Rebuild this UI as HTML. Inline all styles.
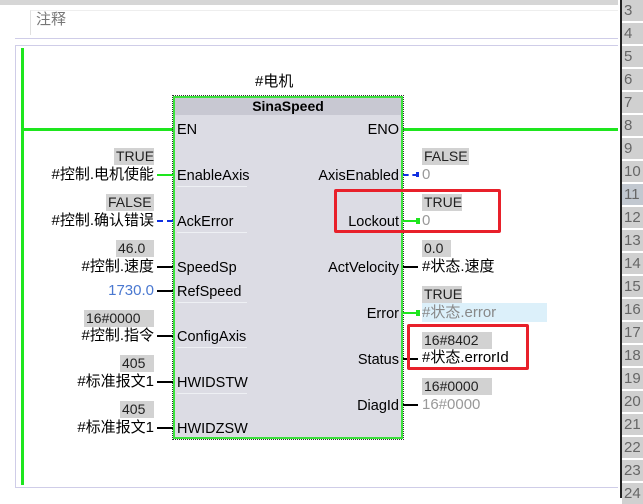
<!DOCTYPE html>
<html><head><meta charset="utf-8"><style>
body{margin:0;width:643px;height:498px;overflow:hidden;background:#fff;position:relative;font-family:"Liberation Sans","Noto Sans CJK SC",sans-serif;font-size:15px;color:#000}
div{position:absolute;box-sizing:border-box}
.t{white-space:nowrap;line-height:16px}
.val{background:#d2d2d2;height:17px;line-height:17px;padding:0 2px;color:#222;white-space:nowrap;font-size:14px}
.r{text-align:right}
.pin{white-space:nowrap;line-height:16px;font-size:14.5px}
.sep{height:1px;background:#eef0f4}
.row{left:622px;width:21px;height:21px;background:#d0d0d0;color:#666;font-size:15px;line-height:21px;padding-left:2px;overflow:hidden}
</style></head><body>
<div style="left:0;top:0;width:618px;height:5px;background:#d6d6d6"></div>
<div style="left:30px;top:10px;width:588px;height:25px;border-left:1px solid #e0e0e0;border-top:1px solid #eee"></div>
<div class="t" style="left:36px;top:12px;color:#777">注释</div>
<div style="left:15px;top:38px;width:603px;height:1px;background:#cfcde8"></div>
<div style="left:15px;top:45px;width:603px;height:443px;border:1px solid #cfcde8;border-right:none"></div>
<div style="left:620px;top:0;width:2px;height:498px;background:#222"></div>
<div class="row" style="top:0">3</div><div class="row" style="top:23px">4</div><div class="row" style="top:46px">5</div><div class="row" style="top:69px">6</div><div class="row" style="top:92px">7</div><div class="row" style="top:115px">8</div><div class="row" style="top:138px">9</div><div class="row" style="top:161px">10</div><div class="row" style="top:184px;background:#c2c8d0">11</div><div class="row" style="top:207px">12</div><div class="row" style="top:230px">13</div><div class="row" style="top:253px">14</div><div class="row" style="top:276px">15</div><div class="row" style="top:299px">16</div><div class="row" style="top:322px">17</div><div class="row" style="top:345px">18</div><div class="row" style="top:368px">19</div><div class="row" style="top:391px">20</div><div class="row" style="top:414px">21</div><div class="row" style="top:437px">22</div><div class="row" style="top:460px">23</div><div class="row" style="top:483px">24</div>
<div style="left:21px;top:48px;width:3px;height:437px;background:#1ee61e"></div>
<div style="left:24px;top:128px;width:150px;height:3px;background:#1ee61e"></div>
<div style="left:402px;top:128px;width:216px;height:3px;background:#1ee61e"></div>
<div class="t" style="left:255px;top:74px;font-size:15px">#电机</div>
<div style="left:173px;top:96px;width:230px;height:343px;background:#dcdce4;border:2px solid #3ce03c;outline:1px dotted #333"></div>
<div style="left:175px;top:98px;width:226px;height:17px;background:#c8c8d2;text-align:center;font-weight:bold;line-height:17px;font-size:14px">SinaSpeed</div>
<div class="pin" style="left:177px;top:122px">EN</div>
<div class="pin r" style="left:300px;width:99px;top:122px">ENO</div>
<div class="pin" style="left:177px;top:168px">EnableAxis</div><div class="sep" style="left:177px;top:186px;width:70px"></div>
<div class="pin" style="left:177px;top:214px">AckError</div><div class="sep" style="left:177px;top:232px;width:70px"></div>
<div class="pin" style="left:177px;top:260px">SpeedSp</div>
<div class="pin" style="left:177px;top:284px">RefSpeed</div><div class="sep" style="left:177px;top:302px;width:70px"></div>
<div class="pin" style="left:177px;top:329px">ConfigAxis</div><div class="sep" style="left:177px;top:347px;width:70px"></div>
<div class="pin" style="left:177px;top:375px">HWIDSTW</div><div class="sep" style="left:177px;top:393px;width:70px"></div>
<div class="pin" style="left:177px;top:421px">HWIDZSW</div>
<div class="pin r" style="left:280px;width:119px;top:168px">AxisEnabled</div>
<div class="pin r" style="left:280px;width:119px;top:214px">Lockout</div>
<div class="pin r" style="left:280px;width:119px;top:260px">ActVelocity</div>
<div class="pin r" style="left:280px;width:119px;top:306px">Error</div>
<div class="pin r" style="left:280px;width:119px;top:352px">Status</div>
<div class="pin r" style="left:280px;width:119px;top:398px">DiagId</div>
<div style="left:157px;top:174px;width:16px;height:2px;background:#1ee61e"></div>
<div style="left:157px;top:220px;width:16px;height:2px;border-top:2px dashed #1030e0"></div>
<div style="left:157px;top:266px;width:16px;height:2px;background:#000"></div>
<div style="left:157px;top:290px;width:16px;height:2px;background:#000"></div>
<div style="left:157px;top:335px;width:16px;height:2px;background:#000"></div>
<div style="left:157px;top:381px;width:16px;height:2px;background:#000"></div>
<div style="left:157px;top:427px;width:16px;height:2px;background:#000"></div>
<div class="val" style="left:114px;top:148px;width:40px">TRUE</div>
<div class="t r" style="left:10px;width:144px;top:167px">#控制.电机使能</div>
<div class="val" style="left:106px;top:194px;width:48px">FALSE</div>
<div class="t r" style="left:10px;width:144px;top:213px">#控制.确认错误</div>
<div class="val" style="left:116px;top:240px;width:38px">46.0</div>
<div class="t r" style="left:10px;width:144px;top:259px">#控制.速度</div>
<div class="t r" style="left:10px;width:144px;top:283px;color:#4a78d0">1730.0</div>
<div class="val" style="left:84px;top:310px;width:70px">16#0000</div>
<div class="t r" style="left:10px;width:144px;top:328px">#控制.指令</div>
<div class="val" style="left:120px;top:355px;width:34px">405</div>
<div class="t r" style="left:10px;width:144px;top:374px">#标准报文1</div>
<div class="val" style="left:120px;top:401px;width:34px">405</div>
<div class="t r" style="left:10px;width:144px;top:420px">#标准报文1</div>
<div style="left:403px;top:174px;width:15px;height:2px;border-top:2px dashed #1030e0"></div><div style="left:416px;top:172px;width:3px;height:5px;background:#1030e0"></div>
<div style="left:403px;top:220px;width:15px;height:2px;background:#1ee61e"></div><div style="left:416px;top:218px;width:4px;height:6px;background:#1ee61e"></div>
<div style="left:403px;top:266px;width:15px;height:2px;background:#000"></div>
<div style="left:403px;top:312px;width:15px;height:2px;background:#1ee61e"></div><div style="left:416px;top:310px;width:4px;height:6px;background:#1ee61e"></div>
<div style="left:403px;top:358px;width:15px;height:2px;background:#000"></div>
<div style="left:403px;top:404px;width:15px;height:2px;background:#000"></div>
<div class="val" style="left:422px;top:148px;width:47px">FALSE</div>
<div class="t" style="left:422px;top:167px;color:#999">0</div>
<div class="val" style="left:422px;top:194px;width:40px">TRUE</div>
<div class="t" style="left:422px;top:213px;color:#999">0</div>
<div class="val" style="left:422px;top:240px;width:29px">0.0</div>
<div class="t" style="left:422px;top:259px">#状态.速度</div>
<div class="val" style="left:422px;top:286px;width:40px">TRUE</div>
<div style="left:422px;top:303px;width:125px;height:19px;background:#dcf0fa"></div>
<div class="t" style="left:422px;top:305px;color:#888">#状态.error</div>
<div class="val" style="left:422px;top:332px;width:70px">16#8402</div>
<div class="t" style="left:422px;top:350px">#状态.errorId</div>
<div class="val" style="left:422px;top:378px;width:70px">16#0000</div>
<div class="t" style="left:422px;top:397px;color:#999">16#0000</div>
<div style="left:334px;top:189px;width:167px;height:44px;border:3px solid #e8202a;border-radius:2px"></div>
<div style="left:407px;top:324px;width:122px;height:46px;border:3px solid #e8202a;border-radius:2px"></div>
</body></html>
